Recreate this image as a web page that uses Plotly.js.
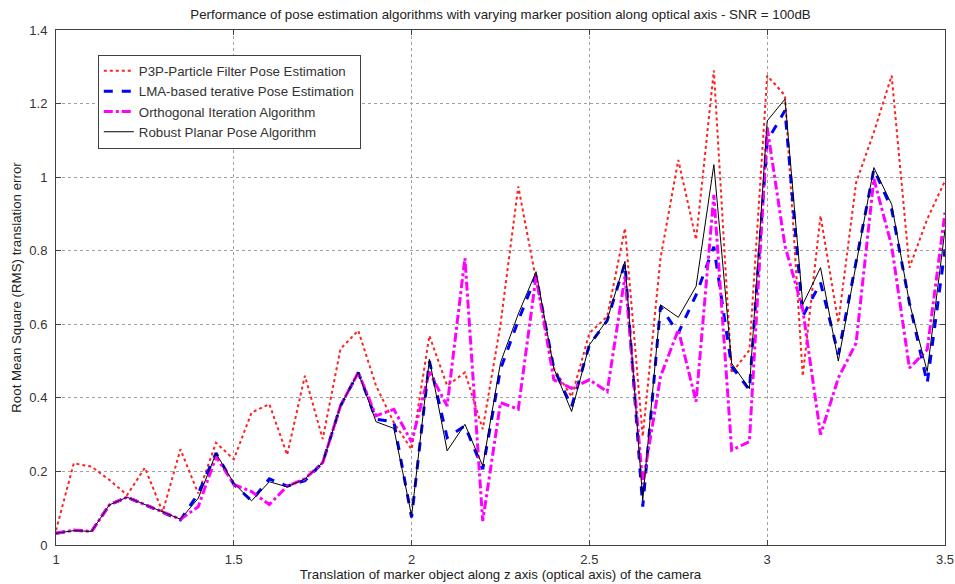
<!DOCTYPE html>
<html>
<head>
<meta charset="utf-8">
<script src="https://cdn.plot.ly/plotly-3.0.1.min.js"></script>
<style>html,body{margin:0;padding:0;background:#fff;}#chart{width:955px;height:584px;}</style>
</head>
<body>
<div id="chart"></div>
<script>
const xValues = [1.00,1.05,1.10,1.15,1.20,1.25,1.30,1.35,1.40,1.45,1.50,1.55,1.60,1.65,1.70,1.75,1.80,1.85,1.90,1.95,2.00,2.05,2.10,2.15,2.20,2.25,2.30,2.35,2.40,2.45,2.50,2.55,2.60,2.65,2.70,2.75,2.80,2.85,2.90,2.95,3.00,3.05,3.10,3.15,3.20,3.25,3.30,3.35,3.40,3.45,3.50];

const p3pValues = [0.04,0.222,0.213,0.177,0.136,0.21,0.09,0.26,0.14,0.278,0.233,0.36,0.383,0.245,0.46,0.288,0.533,0.583,0.433,0.333,0.26,0.569,0.433,0.469,0.315,0.60,0.975,0.72,0.48,0.403,0.576,0.621,0.861,0.295,0.78,1.047,0.83,1.29,0.467,0.53,1.276,1.222,0.459,0.895,0.604,0.985,1.122,1.276,0.754,0.886,0.99];

const lmaValues = [0.032,0.04,0.037,0.109,0.13,0.11,0.09,0.068,0.14,0.25,0.165,0.12,0.18,0.16,0.175,0.224,0.378,0.469,0.342,0.335,0.075,0.50,0.292,0.324,0.206,0.478,0.61,0.732,0.48,0.376,0.544,0.61,0.766,0.104,0.648,0.576,0.68,0.811,0.485,0.422,1.099,1.181,0.622,0.713,0.518,0.767,1.022,0.913,0.658,0.44,0.804];

const orthoValues = [0.032,0.04,0.037,0.109,0.13,0.11,0.09,0.07,0.104,0.24,0.165,0.145,0.11,0.16,0.18,0.224,0.378,0.469,0.351,0.369,0.28,0.47,0.378,0.78,0.065,0.387,0.369,0.73,0.449,0.426,0.449,0.417,0.73,0.165,0.458,0.585,0.39,0.952,0.258,0.281,1.135,0.813,0.64,0.30,0.454,0.549,0.995,0.813,0.481,0.531,0.904];

const robustValues = [0.032,0.039,0.037,0.109,0.13,0.11,0.09,0.07,0.127,0.249,0.168,0.12,0.172,0.158,0.18,0.224,0.378,0.469,0.335,0.317,0.079,0.505,0.256,0.328,0.215,0.496,0.628,0.743,0.48,0.363,0.544,0.612,0.771,0.122,0.653,0.619,0.703,1.034,0.494,0.425,1.153,1.212,0.654,0.754,0.50,0.767,1.026,0.926,0.658,0.472,0.858];

const seriesNames = ["P3P-Particle Filter Pose Estimation","LMA-based terative Pose Estimation","Orthogonal Iteration Algorithm","Robust Planar Pose Algorithm"];
const xTickVals = [1,1.5,2,2.5,3,3.5];
const yTickVals = [0,0.2,0.4,0.6,0.8,1,1.2,1.4];

const traces = [
  {x:xValues,y:p3pValues,name:seriesNames[0],mode:"lines",line:{color:"#ff2020",width:2,dash:"dot"}},
  {x:xValues,y:lmaValues,name:seriesNames[1],mode:"lines",line:{color:"#0000ff",width:3,dash:"dash"}},
  {x:xValues,y:orthoValues,name:seriesNames[2],mode:"lines",line:{color:"#ff00ff",width:3,dash:"dashdot"}},
  {x:xValues,y:robustValues,name:seriesNames[3],mode:"lines",line:{color:"#000000",width:1}}
];

const axisCommon = {
  showline:true, mirror:"ticks", linecolor:"#404040", linewidth:1,
  ticks:"inside", ticklen:5, tickcolor:"#404040",
  showgrid:true, gridcolor:"#a0a0a0", griddash:"dot", gridwidth:1,
  zeroline:false, tickfont:{size:13,color:"#333"}
};

const layout = {
  width:955, height:584,
  margin:{l:56,r:10,t:30,b:39},
  paper_bgcolor:"#fff", plot_bgcolor:"#fff",
  font:{family:"Liberation Sans, Arial, sans-serif", size:13, color:"#222"},
  title:{text:"Performance of pose estimation algorithms with varying marker position along optical axis - SNR = 100dB", font:{size:13.3,color:"#222"}, xref:"paper", x:0.5, xanchor:"center", y:0.976, yanchor:"middle"},
  xaxis:Object.assign({}, axisCommon, {range:[1,3.5], tickvals:xTickVals, ticklabelstandoff:2, title:{text:"Translation of marker object along z axis (optical axis) of the camera", font:{size:13.3}, standoff:2}}),
  yaxis:Object.assign({}, axisCommon, {range:[0,1.4], tickvals:yTickVals, ticklabelstandoff:5, title:{text:"Root Mean Square (RMS) translation error", font:{size:13.3}, standoff:4}}),
  showlegend:true,
  legend:{x:0.047, y:0.952, xanchor:"left", yanchor:"top", bgcolor:"#fff", bordercolor:"#404040", borderwidth:1, font:{size:13.3,color:"#333"}, tracegroupgap:0}
};

Plotly.newPlot("chart", traces, layout, {displayModeBar:false, staticPlot:true});
</script>
</body>
</html>
